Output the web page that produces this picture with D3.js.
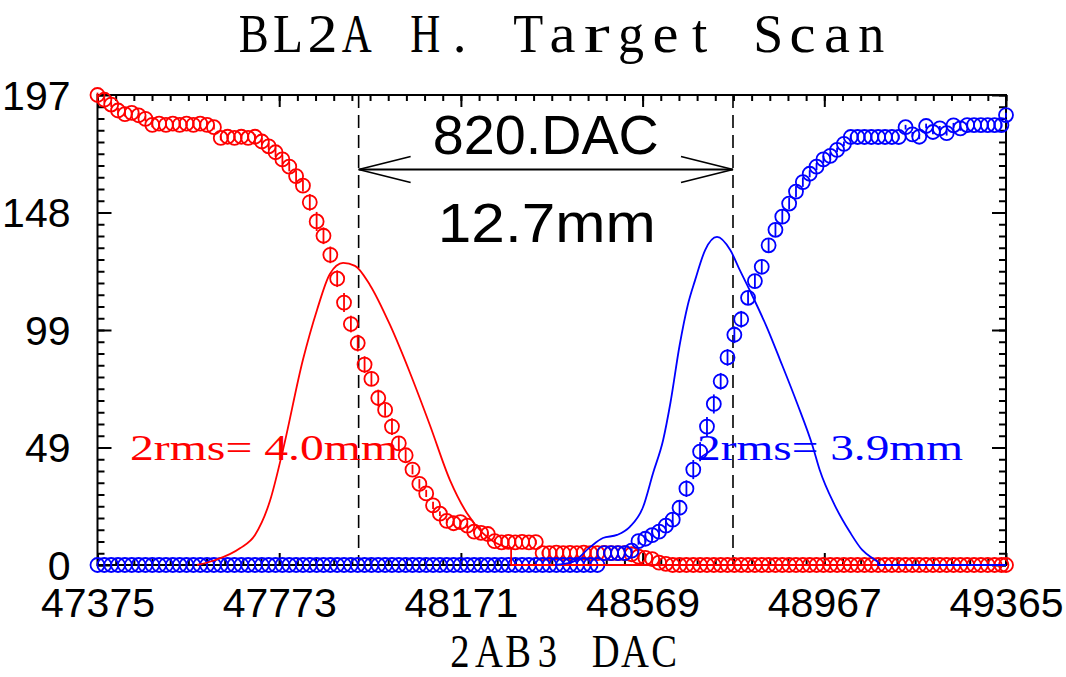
<!DOCTYPE html>
<html>
<head>
<meta charset="utf-8">
<script src="https://cdn.jsdelivr.net/npm/d3@7"></script>
<style>
  html, body { margin: 0; padding: 0; background: #fff; }
  svg { display: block; }
</style>
</head>
<body>
<svg id="chart" width="1066" height="677"></svg>
<script>
// Scan set-points (2AB3 DAC)
const dac = [
  47375,47390,47405,47420,47435,47450,47465,47480,47495,47510,
  47525,47540,47555,47570,47585,47600,47615,47630,47645,47660,
  47675,47690,47705,47720,47735,47750,47765,47780,47795,47810,
  47825,47840,47855,47870,47885,47900,47915,47930,47945,47960,
  47975,47990,48005,48020,48035,48050,48065,48080,48095,48110,
  48125,48140,48155,48170,48185,48200,48215,48230,48245,48260,
  48275,48290,48305,48320,48335,48350,48365,48380,48395,48410,
  48425,48440,48455,48470,48485,48500,48515,48530,48545,48560,
  48575,48590,48605,48620,48635,48650,48665,48680,48695,48710,
  48725,48740,48755,48770,48785,48800,48815,48830,48845,48860,
  48875,48890,48905,48920,48935,48950,48965,48980,48995,49010,
  49025,49040,49055,49070,49085,49100,49115,49130,49145,49160,
  49175,49190,49205,49220,49235,49250,49265,49280,49295,49310,
  49325,49340,49355,49365
];

// Signal while the left edge of the target crosses the beam (red)
const redCounts = [
  197,195,193,190.5,189,189.5,188.5,187,184.5,185,
  184.5,185,184.5,185,184.5,185,184.5,183.5,179,179.5,
  179,179.5,179,179.5,177.5,175.5,173,170,167,163,
  159,152,144,138,130,120,110,101,93,84,
  78,70,65,58,51,46,40,34,30,25,
  21.5,18.5,17.5,18,16.5,14,13.5,13,10,9.5,
  9.7,9.5,9.7,9.5,9.6,5,5,5.2,5,5.1,
  5,5.2,5,5,5.1,5,5,5,4.5,3.5,
  3,2.5,1,0.5,0,0,0,0,0,0,
  0,0,0,0,0,0,0,0,0,0,
  0,0,0,0,0,0,0,0,0,0,
  0,0,0,0,0,0,0,0,0,0,
  0,0,0,0,0,0,0,0,0,0,
  0,0,0,0
];
const redErr = [
  1,1,1,1,1,1,1,1,1,1,
  1,1,1,1,1,1,1,1,1,1,
  1,1,1,1,1.5,1.5,2,2,2,2.5,
  2.5,3.5,4,3.5,3.5,3.5,4,3.5,3.5,3.5,
  3,3.5,2.5,3.5,3,2.5,2,2,1.5,1.5,
  1,1,1,1,1,1,1,1,1,1,
  1,1,1,1,1,1,1,1,1,1,
  1,1,1,1,1,1,1,1,1,1,
  1,1,1,1,0,0,0,0,0,0,
  0,0,0,0,0,0,0,0,0,0,
  0,0,0,0,0,0,0,0,0,0,
  0,0,0,0,0,0,0,0,0,0,
  0,0,0,0,0,0,0,0,0,0,
  0,0,0,0
];

// Signal while the right edge of the target crosses the beam (blue)
const blueCounts = [
  0,0,0,0,0,0,0,0,0,0,
  0,0,0,0,0,0,0,0,0,0,
  0,0,0,0,0,0,0,0,0,0,
  0,0,0,0,0,0,0,0,0,0,
  0,0,0,0,0,0,0,0,0,0,
  0,0,0,0,0,0,0,0,0,0,
  0,0,0,0,0,0,0,0,0,0,
  0,0,0,0,5,5,5,5,6,10,
  11,12.5,14,16.5,19,24,32,40,47.5,58,
  67.5,77,87,96.5,103,112,119,125,134,140.5,
  146,151.5,156.5,160.5,164,167,170,171.5,174,176.5,
  179.4,179.4,179.4,179.4,179.4,179.4,179.4,179.4,183.5,180.5,
  179.5,184,181.5,183,181,184.3,183,184.4,184.4,184.4,
  184.4,184.4,184.4,188.6
];
const blueErr = [
  0,0,0,0,0,0,0,0,0,0,
  0,0,0,0,0,0,0,0,0,0,
  0,0,0,0,0,0,0,0,0,0,
  0,0,0,0,0,0,0,0,0,0,
  0,0,0,0,0,0,0,0,0,0,
  0,0,0,0,0,0,0,0,0,0,
  0,0,0,0,0,0,0,0,0,0,
  0,0,0,0,1,1,1,1,1,1.5,
  1.5,2,2,2.5,3,3,3.5,4,4,4,
  4,3.5,3.5,3.5,3.5,3,3,3,3,3,
  3,2.5,2.5,2,1.5,1.5,1.5,1.5,1,1,
  1,1,1,1,1,1,1,1,1,1,
  1,1,1,1,1,1,1,1,1,1,
  1,1,1,1
];

// Beam profiles (derivative of the edge scans), cut to zero outside the peak
const redProfileDac = [47593,47632,47687,47720,47753,47781,47825,47856,47884,47913,47939,47972,48016,48059,48103,48147,48184,48219,48257,48281];
const redProfileVal = [0,2,7,12.6,27,48,86,107,122,126.6,125.4,117.3,100.5,80.8,58.7,35.6,21.8,13.4,8.4,7.1];
const redTailDac = [48281,48281,49365];
const redTailVal = [7.1,0,0];

const blueProfileDac = [48377,48416,48454,48482,48513,48541,48570,48592,48614,48630,48650,48668,48684,48706,48732,48761,48782,48804,48841,48870,48907,48942,48957,48990,49023,49050,49072,49085];
const blueProfileVal = [0,1.3,7.5,11.3,12.6,16,24.3,38.6,52.4,68,92,109,119.4,132,137.5,132,123.6,115,99.7,86,68,49.5,39.8,25,13.8,6.3,2.9,1.3];
const blueTailDac = [49085,49085,49365];
const blueTailVal = [1.3,0,0];

// Axes
const xTickValues = [47375,47773,48171,48569,48967,49365];
const xTickLabels = ["47375","47773","48171","48569","48967","49365"];
const yTickValues = [0,49.25,98.5,147.75,197];
const yTickLabels = ["0","49","99","148","197"];

// Edge markers and annotations
const markerDac = [47947,48767];
const separationText = "820.DAC";
const separationMm = "12.7mm";
const redRmsText = "2rms= 4.0mm";
const blueRmsText = "2rms= 3.9mm";
const titleText = "BL2A H. Target Scan";
const xTitleText = "2AB3 DAC";

const RED = "#ff0000", BLUE = "#0000ff";

const svg = d3.select("#chart");
const plot = {left: 97.5, right: 1006, top: 95, bottom: 565};

const x = d3.scaleLinear().domain([47375, 49365]).range([plot.left, plot.right]);
const y = d3.scaleLinear().domain([0, 197]).range([plot.bottom, plot.top]);

const xMinor = d3.range(0, 51).map(k => 47375 + k * 39.8);
const yMinor = d3.range(0, 41).map(k => k * 4.925);

// ---- frame and ticks (inward, on all four sides)
function styleAxis(g) {
  g.select(".domain").remove();
  g.selectAll(".tick line").attr("stroke", "#000").attr("stroke-width", 2);
}
const tickFont = "'Liberation Sans', Arial, sans-serif";

svg.append("g").attr("transform", `translate(0,${plot.bottom})`)
  .call(d3.axisBottom(x).tickValues(xMinor).tickSizeInner(-6).tickSizeOuter(0).tickFormat(""))
  .call(styleAxis);
svg.append("g").attr("transform", `translate(0,${plot.top})`)
  .call(d3.axisTop(x).tickValues(xMinor).tickSizeInner(-6).tickSizeOuter(0).tickFormat(""))
  .call(styleAxis);
svg.append("g").attr("transform", `translate(${plot.left},0)`)
  .call(d3.axisLeft(y).tickValues(yMinor).tickSizeInner(-7).tickSizeOuter(0).tickFormat(""))
  .call(styleAxis);
svg.append("g").attr("transform", `translate(${plot.right},0)`)
  .call(d3.axisRight(y).tickValues(yMinor).tickSizeInner(-7).tickSizeOuter(0).tickFormat(""))
  .call(styleAxis);

const xAxis = svg.append("g").attr("transform", `translate(0,${plot.bottom})`)
  .call(d3.axisBottom(x).tickValues(xTickValues).tickSizeInner(-12).tickSizeOuter(0)
        .tickPadding(20).tickFormat((d, i) => xTickLabels[i]))
  .call(styleAxis);
xAxis.selectAll(".tick text")
  .attr("font-family", tickFont).attr("font-size", 41).attr("fill", "#000")
  .attr("dy", "0.71em").attr("y", 23);

svg.append("g").attr("transform", `translate(0,${plot.top})`)
  .call(d3.axisTop(x).tickValues(xTickValues).tickSizeInner(-12).tickSizeOuter(0).tickFormat(""))
  .call(styleAxis);

const yAxis = svg.append("g").attr("transform", `translate(${plot.left},0)`)
  .call(d3.axisLeft(y).tickValues(yTickValues).tickSizeInner(-14).tickSizeOuter(0)
        .tickPadding(27).tickFormat((d, i) => yTickLabels[i]))
  .call(styleAxis);
yAxis.selectAll(".tick text")
  .attr("font-family", tickFont).attr("font-size", 41).attr("fill", "#000")
  .attr("x", -27).attr("dy", "0.35em");

svg.append("g").attr("transform", `translate(${plot.right},0)`)
  .call(d3.axisRight(y).tickValues(yTickValues).tickSizeInner(-14).tickSizeOuter(0).tickFormat(""))
  .call(styleAxis);

svg.append("rect")
  .attr("x", plot.left).attr("y", plot.top)
  .attr("width", plot.right - plot.left).attr("height", plot.bottom - plot.top)
  .attr("fill", "none").attr("stroke", "#000").attr("stroke-width", 2);

// ---- edge markers
svg.selectAll("line.marker").data(markerDac).join("line")
  .attr("class", "marker")
  .attr("x1", d => x(d)).attr("x2", d => x(d))
  .attr("y1", plot.top).attr("y2", plot.bottom)
  .attr("stroke", "#000").attr("stroke-width", 1.6)
  .attr("stroke-dasharray", "13,7");

// ---- double arrow between markers
const arrowY = 169.5;
const xa = x(markerDac[0]), xb = x(markerDac[1]);
const arrow = svg.append("g").attr("stroke", "#000").attr("stroke-width", 1.8).attr("fill", "none");
arrow.append("line").attr("x1", xa).attr("x2", xb).attr("y1", arrowY).attr("y2", arrowY);
arrow.append("polyline").attr("points", `${xa + 52},${arrowY - 13} ${xa},${arrowY} ${xa + 52},${arrowY + 13}`);
arrow.append("polyline").attr("points", `${xb - 52},${arrowY - 13} ${xb},${arrowY} ${xb - 52},${arrowY + 13}`);

svg.append("text").attr("x", (xa + xb) / 2).attr("y", 154)
  .attr("text-anchor", "middle").attr("font-family", tickFont).attr("font-size", 55)
  .attr("textLength", 226).attr("lengthAdjust", "spacingAndGlyphs")
  .text(separationText);
svg.append("text").attr("x", (xa + xb) / 2 + 1).attr("y", 242)
  .attr("text-anchor", "middle").attr("font-family", tickFont).attr("font-size", 56)
  .attr("textLength", 218).attr("lengthAdjust", "spacingAndGlyphs")
  .text(separationMm);

// ---- scan points with error bars
function drawScan(values, errs, color) {
  const pts = dac.map((d, i) => ({d, v: values[i], e: errs[i]}));
  const g = svg.append("g").attr("stroke", color).attr("fill", "none").attr("stroke-width", 1.8);
  g.selectAll("line").data(pts.filter(p => p.e > 0)).join("line")
    .attr("x1", p => x(p.d)).attr("x2", p => x(p.d))
    .attr("y1", p => y(p.v - p.e)).attr("y2", p => y(p.v + p.e));
  g.selectAll("circle").data(pts).join("circle")
    .attr("cx", p => x(p.d)).attr("cy", p => y(p.v)).attr("r", 7);
}
drawScan(redCounts, redErr, RED);
drawScan(blueCounts, blueErr, BLUE);

// ---- beam profiles
function drawProfile(dArr, vArr, tailD, tailV, color) {
  const smooth = d3.line().curve(d3.curveMonotoneX).x(p => x(p[0])).y(p => y(p[1]));
  const straight = d3.line().x(p => x(p[0])).y(p => y(p[1]));
  svg.append("path").datum(d3.zip(dArr, vArr)).attr("d", smooth)
    .attr("fill", "none").attr("stroke", color).attr("stroke-width", 1.8);
  svg.append("path").datum(d3.zip(tailD, tailV)).attr("d", straight)
    .attr("fill", "none").attr("stroke", color).attr("stroke-width", 1.8);
}
drawProfile(redProfileDac, redProfileVal, redTailDac, redTailVal, RED);
drawProfile(blueProfileDac, blueProfileVal, blueTailDac, blueTailVal, BLUE);

// ---- rms labels
const serif = "'Liberation Serif', 'Times New Roman', serif";
svg.append("text").attr("x", 130).attr("y", 460)
  .attr("font-family", serif).attr("font-size", 36).attr("fill", RED)
  .attr("textLength", 268).attr("lengthAdjust", "spacingAndGlyphs")
  .text(redRmsText);
svg.append("text").attr("x", 697).attr("y", 460)
  .attr("font-family", serif).attr("font-size", 36).attr("fill", BLUE)
  .attr("textLength", 266).attr("lengthAdjust", "spacingAndGlyphs")
  .text(blueRmsText);

// ---- title: serif glyphs set on a fixed character pitch, each fitted to its cell
function pitchedTitle(str, cx, baseline, pitch, size, capW, lowW) {
  const chars = str.split("").map((c, i) => ({c, i}));
  const n = chars.length;
  const g = svg.append("g").attr("transform", `translate(${cx},${baseline})`);
  g.selectAll("text").data(chars.filter(d => d.c !== " ")).join("text")
    .attr("x", d => (d.i - (n - 1) / 2) * pitch)
    .attr("y", 0)
    .attr("text-anchor", "middle")
    .attr("font-family", serif).attr("font-size", size).attr("fill", "#000")
    .each(function (d) {
      if (d.c === "." || d.c === "t") return;
      const w = /[a-z]/.test(d.c) ? lowW : capW;
      d3.select(this).attr("textLength", w).attr("lengthAdjust", "spacingAndGlyphs");
    })
    .text(d => d.c);
}
pitchedTitle(titleText, 562.5, 52, 34.3, 55, 30, 26);

// ---- axis title: one text run on a fixed pitch, narrowed horizontally
const squeeze = 0.84, xPitch = 29.2;
svg.append("g").attr("transform", `translate(562,667) scale(${squeeze},1)`)
  .append("text")
  .attr("font-family", serif).attr("font-size", 46).attr("fill", "#000")
  .attr("text-anchor", "middle")
  .attr("x", xTitleText.split("").map((c, i) => ((i - (xTitleText.length - 1) / 2) * xPitch / squeeze).toFixed(2)).join(" "))
  .attr("y", 0)
  .text(xTitleText);
</script>
</body>
</html>
